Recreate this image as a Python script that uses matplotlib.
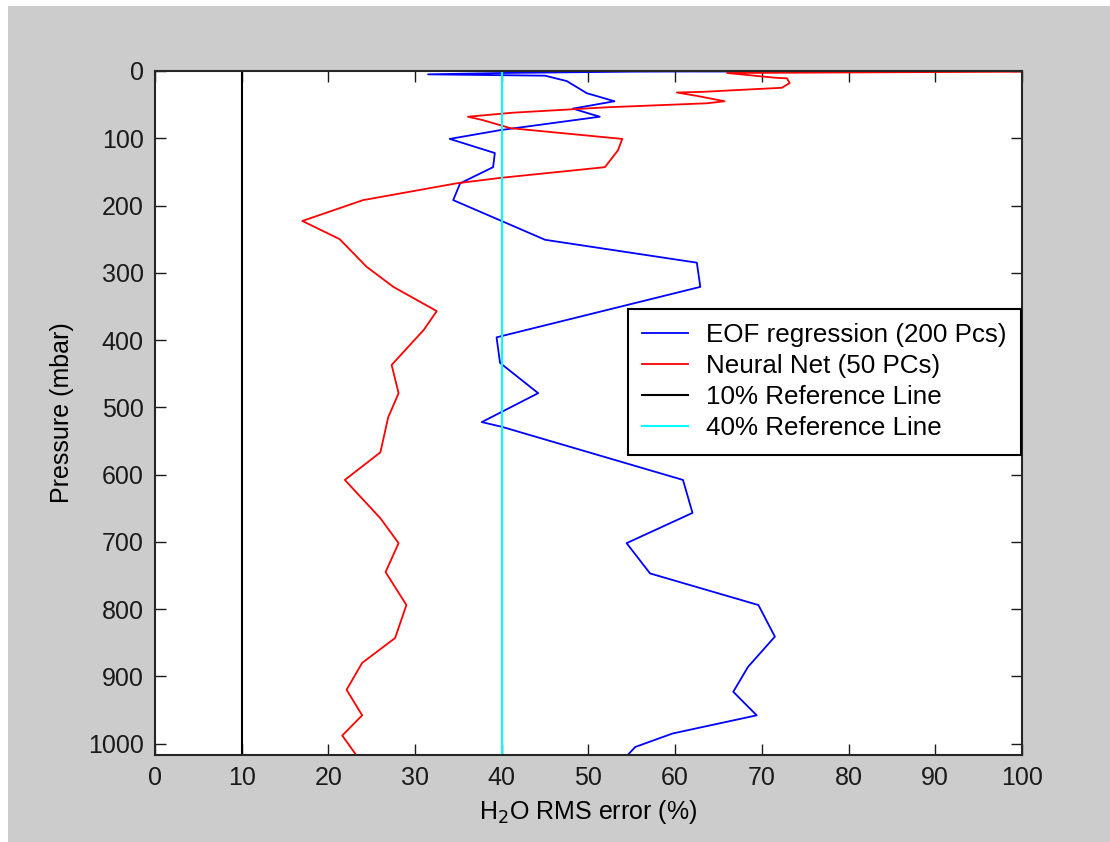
import matplotlib
matplotlib.use("Agg")
import matplotlib.pyplot as plt
from matplotlib.patches import Rectangle

plt.rcParams['font.family'] = ['Liberation Sans', 'DejaVu Sans']

# EOF regression (200 PCs): pressure (mbar) and RMS error (%)
eof_p = [0.1, 0.5, 1, 3, 5, 7, 15, 33, 45, 56, 68, 88, 101, 122, 143, 167, 192,
         222, 251, 285, 321, 396, 434, 479, 522, 529, 608, 657, 702, 747, 794,
         841, 886, 923, 958, 985, 1005, 1016]
eof_err = [60, 67, 55, 40, 31.5, 45, 47.5, 49.8, 53, 48.2, 51.3, 39.8, 34, 39.2,
           39, 35.2, 34.4, 39.8, 45, 62.5, 62.9, 39.4, 39.8, 44.2, 37.7, 40,
           60.9, 62, 54.4, 57.1, 69.6, 71.5, 68.4, 66.7, 69.4, 59.7, 55.4, 54.6]

# Neural Net (50 PCs)
nn_p = [0.1, 1, 3, 10, 11, 18, 25, 27, 31, 32, 37, 45, 48, 54, 62, 68, 73, 85,
        101, 118, 143, 159, 167, 192, 223, 250, 291, 321, 357, 385, 437, 479,
        515, 567, 608, 665, 702, 745, 794, 843, 880, 920, 958, 988, 1015]
nn_err = [130, 100, 66, 71.5, 72.9, 73.2, 72.3, 69.2, 63.2, 60.2, 62.5, 65.7,
          63.7, 52.1, 41.3, 36.1, 37.8, 41, 53.9, 53.4, 51.9, 39.8, 34.8, 24,
          17, 21.3, 24.4, 27.5, 32.5, 31, 27.3, 28.1, 26.9, 26, 21.9, 26, 28.1,
          26.6, 29, 27.7, 23.9, 22.1, 23.9, 21.6, 23.1]

ref_levels = [10, 40]
ref_colors = ['black', 'cyan']

fig = plt.figure(figsize=(11.1, 8.42), dpi=100)
fig.patch.set_facecolor('white')
fig.patches.append(Rectangle((8 / 1110, 0), 1, 1 - 6 / 842, transform=fig.transFigure,
                             facecolor='#cccccc', edgecolor='none', zorder=-10))

ax = fig.add_axes([0.1396, 0.1033, 0.7811, 0.8124])
ax.set_facecolor('white')

ax.plot(eof_err, eof_p, color='blue', lw=1.3, label='EOF regression (200 Pcs)')
ax.plot(nn_err, nn_p, color='red', lw=1.3, label='Neural Net (50 PCs)')
for lev, c in zip(ref_levels, ref_colors):
    ax.axvline(lev, color=c, lw=1.5, label=f'{lev}% Reference Line')

ax.set_xlim(0, 100)
ax.set_ylim(1017, 0)
ax.set_xticks(range(0, 101, 10))
ax.set_yticks(range(0, 1001, 100))
ax.tick_params(direction='in', length=8, width=1, top=True, right=True,
               labelsize=18, pad=8, colors='#1a1a1a')
for s in ax.spines.values():
    s.set_linewidth(1.5)
    s.set_color('#262626')

ax.set_xlabel('H$_2$O RMS error (%)', fontsize=18, labelpad=6)
ax.set_ylabel('Pressure (mbar)', fontsize=18, labelpad=10)

leg = ax.legend(loc='upper right', bbox_to_anchor=(0.999, 0.652), borderaxespad=0,
                fontsize=18.75, fancybox=False, framealpha=1, edgecolor='black',
                labelspacing=0.27, handlelength=1.75, handletextpad=0.7,
                borderpad=0.55)
leg.get_frame().set_linewidth(1.5)

fig.savefig('out.png', dpi=100, facecolor=fig.get_facecolor())
